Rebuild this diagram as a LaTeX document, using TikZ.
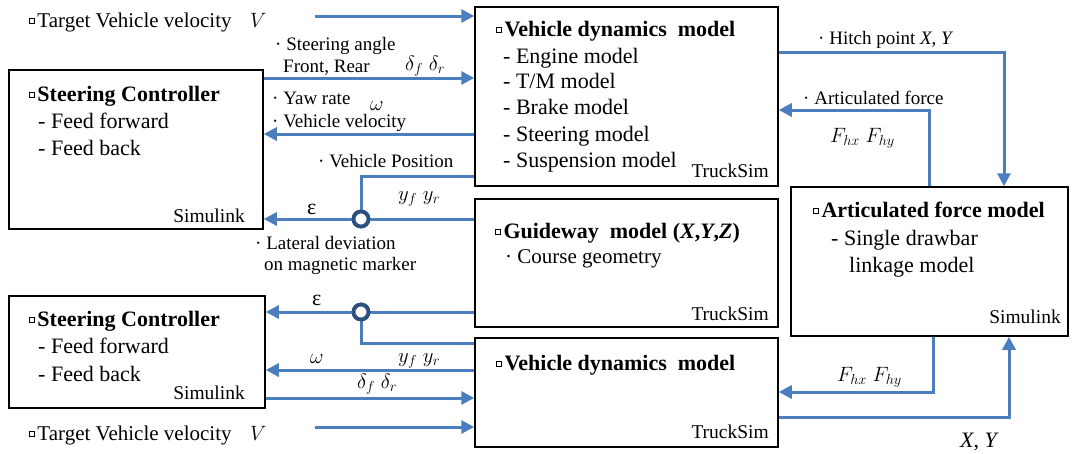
\documentclass[tikz,border=0pt]{standalone}
\usepackage{fontspec}
\setmainfont{Liberation Serif}
\usetikzlibrary{arrows.meta}
\definecolor{lblue}{RGB}{74,126,190}
\definecolor{jblue}{RGB}{44,80,128}
\newcommand\lbl{\fontsize{19}{22}\selectfont}
\newcommand\bdy{\fontsize{22}{26}\selectfont}
\newcommand\tvf{\fontsize{21}{25}\selectfont}
\newcommand\mth{\fontsize{22.5}{26}\selectfont}
\newcommand\tagf{\fontsize{19.5}{23}\selectfont}
\newcommand\sqb{\raisebox{4.5pt}{\setlength\fboxsep{0pt}\setlength\fboxrule{1.1pt}\fbox{\hbox to 3.6pt{\vrule height 3.6pt width 0pt\hfil}}}\hspace{2.5pt}}
\tikzset{
  blk/.style={draw=black, line width=1.5pt, inner sep=0pt},
  ln/.style={draw=lblue, line width=3pt},
  arr/.style={ln, -{Triangle[length=13pt,width=13pt]}},
  junc/.style={circle, draw=jblue, line width=3.8pt, fill=white, minimum size=15pt, inner sep=0pt},
  tx/.style={inner sep=0pt, anchor=base west, font=\bdy},
  tv/.style={inner sep=0pt, anchor=base west, font=\tvf},
  mt/.style={inner sep=0pt, anchor=base west, font=\mth},
  sm/.style={inner sep=0pt, anchor=base west, font=\lbl},
  tr/.style={inner sep=0pt, anchor=base east, font=\tagf},
}
\begin{document}
\begin{tikzpicture}[x=1pt,y=-1pt]
\useasboundingbox (0,0) rectangle (1072,453);
% boxes
\node[blk, minimum width=254pt, minimum height=159pt] (sc1) at (136,149.5) {};
\node[blk, minimum width=303pt, minimum height=179pt] (vdm1) at (626.5,96.5) {};
\node[blk, minimum width=303pt, minimum height=128pt] (gw) at (626.5,263) {};
\node[blk, minimum width=277pt, minimum height=149pt] (afm) at (929.5,261.5) {};
\node[blk, minimum width=256pt, minimum height=112pt] (sc2) at (137,352) {};
\node[blk, minimum width=303pt, minimum height=109pt] (vdm2) at (626.5,392.5) {};
% helper coordinates
\coordinate (tv1) at (315,16);
\coordinate (tv2) at (315,427);
\coordinate (ysa) at (0,78);
\coordinate (yyaw) at (0,134);
\coordinate (ypos) at (0,176);
\coordinate (ylow) at (0,343);
\coordinate (yom) at (0,370);
\coordinate (yde) at (0,398);
\coordinate (yhit) at (0,52);
\coordinate (yart) at (0,110);
\coordinate (yf2) at (0,392);
\coordinate (yxy) at (0,417);
\coordinate (xhit) at (1004,0);
\coordinate (xart) at (929,0);
\coordinate (xf2) at (933,0);
\coordinate (xxy) at (1009,0);
\node[junc] (j1) at (361,219) {};
\node[junc] (j2) at (361,312) {};
% connectors
\draw[arr] (tv1) -- (vdm1.west |- tv1);
\draw[arr] (sc1.east |- ysa) -- (vdm1.west |- ysa);
\draw[arr] (vdm1.west |- yyaw) -- (sc1.east |- yyaw);
\draw[ln] (vdm1.west |- ypos) -| (j1);
\draw[ln] (gw.west |- j1) -- (j1);
\draw[arr] (j1) -- (sc1.east |- j1);
\draw[ln] (gw.west |- j2) -- (j2);
\draw[arr] (j2) -- (sc2.east |- j2);
\draw[ln] (j2) |- (vdm2.west |- ylow);
\draw[arr] (vdm2.west |- yom) -- (sc2.east |- yom);
\draw[arr] (sc2.east |- yde) -- (vdm2.west |- yde);
\draw[arr] (tv2) -- (vdm2.west |- tv2);
\draw[arr] (vdm1.east |- yhit) -| (afm.north -| xhit);
\draw[arr] (afm.north -| xart) |- (vdm1.east |- yart);
\draw[arr] (afm.south -| xf2) |- (vdm2.east |- yf2);
\draw[arr] (vdm2.east |- yxy) -| (afm.south -| xxy);
\node[junc] at (j1) {};
\node[junc] at (j2) {};
% connector labels
\node[tv] (t1) at (29,27) {\sqb Target Vehicle velocity};
\node[mt] (v1) at (250,27) {$V$};
\node[sm] (l1) at (275,50) {· Steering angle};
\node[sm] (l2) at (283,72) {Front, Rear};
\node[mt] (l3) at (405,70) {$\delta_f\;\delta_r$};
\node[sm] (l4) at (272,104) {· Yaw rate};
\node[mt] (l5) at (370,110) {$\omega$};
\node[sm] (l6) at (272,127) {· Vehicle velocity};
\node[sm] (l7) at (318,167) {· Vehicle Position};
\node[mt] (l8) at (398,200) {$y_f\;y_r$};
\node[tx] (l9) at (307,214) {ε};
\node[sm] (l10) at (255,249) {· Lateral deviation};
\node[sm] (l11) at (264,270) {on magnetic marker};
\node[tx] (l12) at (312,305) {ε};
\node[mt] (l13) at (310,363) {$\omega$};
\node[mt] (l14) at (398,362) {$y_f\;y_r$};
\node[mt] (l15) at (357,388) {$\delta_f\;\delta_r$};
\node[tv] (t2) at (29,440) {\sqb Target Vehicle velocity};
\node[mt] (v2) at (250,440) {$V$};
\node[sm] (l16) at (818,44) {· Hitch point \textit{X}, \textit{Y}};
\node[sm] (l17) at (803,104) {· Articulated force};
\node[mt] (l18) at (830,142) {$F_{hx}\;F_{hy}$};
\node[mt] (l19) at (837,381) {$F_{hx}\;F_{hy}$};
\node[tx] (l20) at (960,447) {\textit{X}, \textit{Y}};
% box texts
\node[tx] (a1) at (29,101) {\sqb\textbf{Steering Controller}};
\node[tx] (a2) at (38,128) {- Feed forward};
\node[tx] (a3) at (38,155) {- Feed back};
\node[tr] (a4) at (245,222) {Simulink};
\node[tx] (b1) at (496,36) {\sqb\textbf{Vehicle dynamics\ \ model}};
\node[tx] (b2) at (503,63) {- Engine model};
\node[tx] (b3) at (503,88) {- T/M model};
\node[tx] (b4) at (503,114) {- Brake model};
\node[tx] (b5) at (503,141) {- Steering model};
\node[tx] (b6) at (503,167) {- Suspension model};
\node[tr] (b7) at (769,177) {TruckSim};
\node[tx] (c1) at (495,238) {\sqb\textbf{Guideway\ \ model\ (\textit{X},\textit{Y},\textit{Z})}};
\node[tv] (c2) at (505,263) {· Course geometry};
\node[tr] (c3) at (769,320) {TruckSim};
\node[tx] (d1) at (813,217) {\sqb\textbf{Articulated\ force model}};
\node[tx] (d2) at (831,245) {- Single drawbar};
\node[tx] (d3) at (849,272) {linkage model};
\node[tr] (d4) at (1061,323) {Simulink};
\node[tx] (e1) at (29,326) {\sqb\textbf{Steering Controller}};
\node[tx] (e2) at (38,353) {- Feed forward};
\node[tx] (e3) at (38,381) {- Feed back};
\node[tr] (e4) at (245,399) {Simulink};
\node[tx] (f1) at (496,370) {\sqb\textbf{Vehicle dynamics\ \ model}};
\node[tr] (f2) at (769,438) {TruckSim};
\end{tikzpicture}
\end{document}
